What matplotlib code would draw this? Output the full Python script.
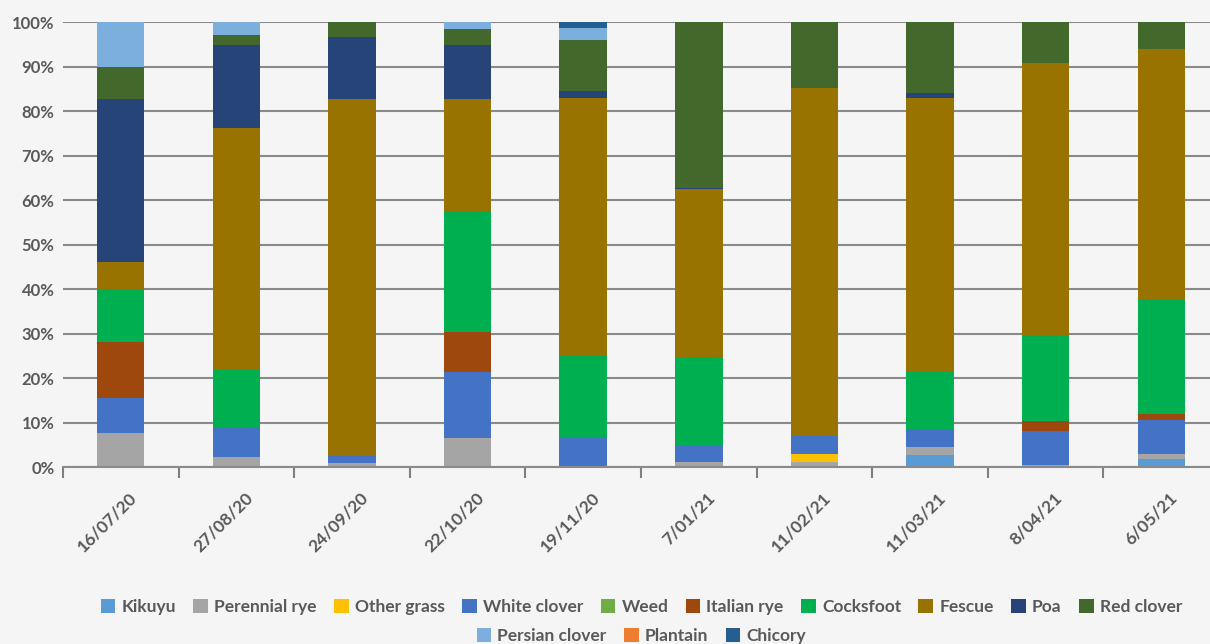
import numpy as np
import matplotlib.pyplot as plt
from matplotlib.patches import Patch
from matplotlib.transforms import ScaledTranslation

#  sample dates and species composition (% of dry matter)
dates = ["16/07/20", "27/08/20", "24/09/20", "22/10/20", "19/11/20",
         "7/01/21", "11/02/21", "11/03/21", "8/04/21", "6/05/21"]

kikuyu = [0, 0, 0, 0, 0, 0, 0, 2.7, 0, 1.8]
perennial_rye = [7.6, 2.2, 0.9, 6.5, 0, 1.1, 1.1, 1.8, 0.4, 1.1]
other_grass = [0, 0, 0, 0, 0, 0, 1.8, 0, 0, 0]
white_clover = [8.0, 6.8, 1.6, 14.8, 6.8, 3.7, 4.1, 4.0, 7.7, 7.7]
weed = [0, 0, 0, 0, 0, 0, 0, 0, 0, 0]
italian_rye = [12.5, 0, 0, 9.0, 0, 0, 0, 0, 2.2, 1.3]
cocksfoot = [11.9, 13.0, 0, 27.2, 18.2, 19.9, 0, 13.1, 19.2, 25.9]
fescue = [6.0, 54.2, 80.1, 25.1, 57.9, 37.7, 78.2, 61.3, 61.3, 56.1]
poa = [36.6, 18.7, 14.0, 12.2, 1.6, 0.3, 0, 1.1, 0, 0]
red_clover = [7.2, 2.1, 3.4, 3.6, 11.5, 37.3, 14.8, 16.0, 9.2, 6.1]
persian_clover = [10.2, 3.0, 0, 1.6, 2.7, 0, 0, 0, 0, 0]
plantain = [0, 0, 0, 0, 0, 0, 0, 0, 0, 0]
chicory = [0, 0, 0, 0, 1.3, 0, 0, 0, 0, 0]

species = ["Kikuyu", "Perennial rye", "Other grass", "White clover", "Weed",
           "Italian rye", "Cocksfoot", "Fescue", "Poa", "Red clover",
           "Persian clover", "Plantain", "Chicory"]
series = [kikuyu, perennial_rye, other_grass, white_clover, weed,
          italian_rye, cocksfoot, fescue, poa, red_clover,
          persian_clover, plantain, chicory]
colors = ["#5B9BD5", "#A5A5A5", "#FFC000", "#4472C4", "#70AD47",
          "#9E480E", "#00B050", "#997300", "#264478", "#43682B",
          "#7CAFDD", "#ED7D31", "#255E91"]

bg = "#F5F5F5"
txt = "#595959"

plt.rcParams["font.family"] = ["Lato", "DejaVu Sans"]

fig = plt.figure(figsize=(12.1, 6.44), dpi=100, facecolor=bg)
ax = fig.add_axes([0.052, 0.2748, 0.9555, 0.691])
ax.set_facecolor(bg)

x = np.arange(len(dates))
bottom = np.zeros(len(dates))
for name, vals, col in zip(species, series, colors):
    vals = np.array(vals, dtype=float)
    ax.bar(x, vals, width=0.41, bottom=bottom, color=col, label=name, zorder=3)
    bottom += vals

#  axes and grid
ax.set_xlim(-0.5, len(dates) - 0.5)
ax.set_ylim(0, 100)
ax.set_yticks(np.arange(0, 101, 10))
ax.set_yticklabels(["%d%%" % v for v in range(0, 101, 10)])
ax.yaxis.grid(True, color="#8a8a8a", lw=1.5, zorder=0)
ax.tick_params(axis="y", length=0, pad=6, labelsize=12, labelcolor=txt)
for lab in ax.get_yticklabels():
    lab.set_fontweight("bold")

ax.set_xticks(x)
ax.set_xticklabels(dates, rotation=45, ha="right", va="top",
                   rotation_mode="anchor", fontsize=12.5, fontweight="bold",
                   color=txt)
ax.tick_params(axis="x", which="major", length=0, pad=16)
#  nudge rotated date labels a little to the right
shift = ScaledTranslation(8 / 100, 0, fig.dpi_scale_trans)
for lab in ax.get_xticklabels():
    lab.set_transform(lab.get_transform() + shift)
ax.set_xticks(np.arange(-0.5, len(dates)), minor=True)
ax.tick_params(axis="x", which="minor", length=8, width=1.5, color="#7f7f7f")

for side in ["left", "right", "top"]:
    ax.spines[side].set_visible(False)
ax.spines["bottom"].set_color("#8a8a8a")
ax.spines["bottom"].set_linewidth(1.5)
ax.spines["bottom"].set_zorder(4)

#  legend in two centred rows
handles = [Patch(facecolor=c, label=s) for s, c in zip(species, colors)]
leg_kw = dict(frameon=False, labelcolor=txt, handlelength=0.85,
              handleheight=0.85, handletextpad=0.35, columnspacing=1.0,
              loc="center", prop={"size": 12.5, "weight": "bold"})
fig.legend(handles=handles[:10], ncol=10,
           bbox_to_anchor=(0.530, 0.058), **leg_kw)
fig.legend(handles=handles[10:], ncol=3,
           bbox_to_anchor=(0.530, 0.012), **leg_kw)

fig.savefig("out.png", dpi=100, facecolor=bg)
